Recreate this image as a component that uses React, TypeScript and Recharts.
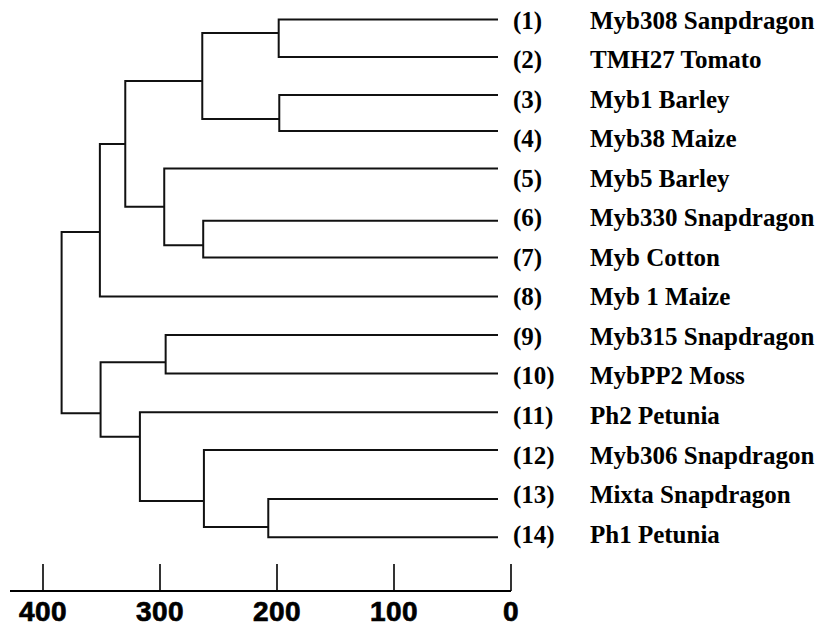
import { Line, LineChart, XAxis, YAxis } from "recharts";

// Myb-family genes in leaf order, top to bottom
const leafNames = [
  "Myb308 Sanpdragon",
  "TMH27 Tomato",
  "Myb1 Barley",
  "Myb38 Maize",
  "Myb5 Barley",
  "Myb330 Snapdragon",
  "Myb Cotton",
  "Myb 1 Maize",
  "Myb315 Snapdragon",
  "MybPP2 Moss",
  "Ph2 Petunia",
  "Myb306 Snapdragon",
  "Mixta Snapdragon",
  "Ph1 Petunia",
];

// row each leaf branch is drawn on (row n = label n)
const leafRows = [0.93, 1.88, 2.84, 3.75, 4.7, 6.02, 6.95, 7.94, 8.91, 9.89, 10.87, 11.82, 13.06, 14.03];

// merges, in order: children are leaves 0-13 or earlier merges 14+
const mergeLeft = [0, 2, 14, 5, 4, 16, 19, 8, 12, 11, 10, 21, 20];
const mergeRight = [1, 3, 15, 6, 17, 18, 7, 9, 13, 22, 23, 24, 25];
const mergeHeights = [187.4, 186.9, 252.7, 251.9, 285.2, 318.5, 340.2, 284.0, 196.3, 251.3, 306.0, 339.6, 372.9];
// row where each merged cluster hooks into its parent
const mergeRows = [1.27, 3.45, 2.49, 6.64, 5.67, 4.08, 6.31, 9.6, 13.77, 13.11, 11.49, 10.89, 8.6];

const scaleTicks = [400, 300, 200, 100, 0];
const labelRows = leafNames.map((_, i) => i + 1);

const LEAVES = leafNames.length;
const heightOf = (n: number) => (n < LEAVES ? 0 : mergeHeights[n - LEAVES]);
const rowOf = (n: number) => (n < LEAVES ? leafRows[n] : mergeRows[n - LEAVES]);

// one bracket per merge: left child -> merge height -> right child
const branches = mergeHeights.map((h, i) => {
  const l = mergeLeft[i];
  const r = mergeRight[i];
  return [
    { x: heightOf(l), y: rowOf(l) },
    { x: h, y: rowOf(l) },
    { x: h, y: rowOf(r) },
    { x: heightOf(r), y: rowOf(r) },
  ];
});

// empty points that give the scale bar axis its extent
const scalePoints = scaleTicks.map((v) => ({ x: v, y: null }));

function LeafLabel({ x, y, payload }: any) {
  const i = payload.value - 1;
  return (
    <g
      fontFamily="'Liberation Serif', 'Times New Roman', serif"
      fontWeight="bold"
      fontSize={25}
      fill="#000"
    >
      <text x={x + 2} y={y + 6.5}>{`(${i + 1})`}</text>
      <text x={x + 79} y={y + 6.5}>{leafNames[i]}</text>
    </g>
  );
}

function ScaleTick({ x, y, payload }: any) {
  return (
    <g>
      <line x1={x} y1={y} x2={x} y2={y - 27} stroke="#000" strokeWidth={1.6} />
      <text
        x={x}
        y={y + 29.5}
        textAnchor="middle"
        fontFamily="'Liberation Sans', Arial, sans-serif"
        fontWeight="bold"
        fontSize={28}
        letterSpacing={0.5}
        fill="#000"
        stroke="#000"
        strokeWidth={0.7}
      >
        {payload.value}
      </text>
    </g>
  );
}

export default function App() {
  return (
    <div
      style={{
        position: "absolute",
        left: 0,
        top: 0,
        width: 822,
        height: 627,
        background: "#fff",
      }}
    >
      <LineChart width={822} height={627} margin={{ top: 8, right: 0, bottom: 0, left: 10 }}>
        <XAxis
          xAxisId="tree"
          type="number"
          dataKey="x"
          domain={[0, 417]}
          reversed
          padding={{ left: 0, right: 13 }}
          allowDataOverflow
          hide
        />
        <XAxis
          xAxisId="scale"
          type="number"
          dataKey="x"
          domain={[0, 400]}
          ticks={scaleTicks}
          interval={0}
          reversed
          padding={{ left: 33, right: 0 }}
          allowDataOverflow
          height={36}
          stroke="#000"
          axisLine={{ stroke: "#000", strokeWidth: 2 }}
          tickLine={false}
          tickSize={0}
          tickMargin={0}
          tick={<ScaleTick />}
        />
        <YAxis
          type="number"
          dataKey="y"
          orientation="right"
          width={311}
          domain={[0.64, 15.39]}
          reversed
          allowDataOverflow
          ticks={labelRows}
          interval={0}
          axisLine={false}
          tickLine={false}
          tickSize={0}
          tickMargin={0}
          tick={<LeafLabel />}
        />
        {branches.map((points, i) => (
          <Line
            key={i}
            xAxisId="tree"
            data={points}
            dataKey="y"
            type="linear"
            stroke="#111"
            strokeWidth={2}
            dot={false}
            activeDot={false}
            isAnimationActive={false}
          />
        ))}
        <Line
          xAxisId="scale"
          data={scalePoints}
          dataKey="y"
          stroke="none"
          dot={false}
          activeDot={false}
          isAnimationActive={false}
        />
      </LineChart>
    </div>
  );
}
